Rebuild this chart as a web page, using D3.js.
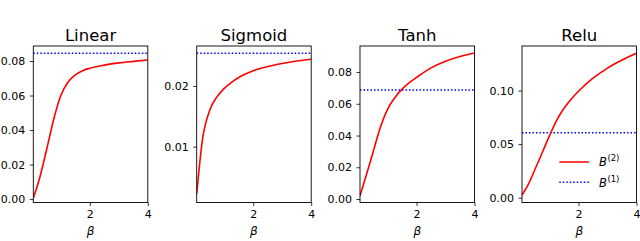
<!DOCTYPE html>
<html><head><meta charset="utf-8">
<script src="https://cdn.jsdelivr.net/npm/d3@7"></script>
<style>body{margin:0;background:#fff}svg{display:block;font-family:"DejaVu Sans",sans-serif}</style>
</head><body><svg id="c" width="640" height="241"></svg>
<script>
const titles = ["Linear", "Sigmoid", "Tanh", "Relu"];
const beta = [0.05, 0.25, 0.5, 0.75, 1.0, 1.25, 1.5, 1.75, 2.0, 2.5, 3.0, 3.5, 4.0];
const linearB2  = [0.0005, 0.0110, 0.0280, 0.0460, 0.0600, 0.0678, 0.0720, 0.0744, 0.0758, 0.0776, 0.0789, 0.0798, 0.0806];
const sigmoidB2 = [0.0022, 0.0112, 0.0160, 0.0182, 0.0196, 0.0206, 0.0214, 0.0220, 0.0225, 0.0232, 0.0237, 0.0241, 0.0244];
const tanhB2    = [0.0020, 0.0140, 0.0295, 0.0450, 0.0565, 0.0638, 0.0692, 0.0733, 0.0766, 0.0826, 0.0868, 0.0898, 0.0920];
const reluB2    = [0.0025, 0.0115, 0.0265, 0.0422, 0.0580, 0.0725, 0.0835, 0.0922, 0.0994, 0.1115, 0.1210, 0.1285, 0.1348];
const B1 = [0.0845, 0.02537, 0.0686, 0.0606];
const yDomains = [[-0.0020, 0.0887], [0.0008, 0.02658], [-0.0022, 0.0964], [-0.0045, 0.1416]];
const yTicks = [[0, 0.02, 0.04, 0.06, 0.08], [0.01, 0.02], [0, 0.02, 0.04, 0.06, 0.08], [0, 0.05, 0.10]];
const xTicks = [2, 4];
const xDomain = [0.05, 4];
const series = [linearB2, sigmoidB2, tanhB2, reluB2];
const lefts = [33.3, 196.7, 360, 522];
const W = 114.5, plotTop = 46, plotBottom = 202.5;

const svg = d3.select("#c");
titles.forEach((t, i) => {
  const g = svg.append("g");
  const x = d3.scaleLinear().domain(xDomain).range([lefts[i], lefts[i] + W]);
  const y = d3.scaleLinear().domain(yDomains[i]).range([plotBottom, plotTop]);
  const clipId = "clip" + i;
  svg.append("clipPath").attr("id", clipId).append("rect")
    .attr("x", lefts[i]).attr("y", plotTop).attr("width", W).attr("height", plotBottom - plotTop);
  const pg = g.append("g").attr("clip-path", `url(#${clipId})`);
  pg.append("line").attr("x1", x(xDomain[0])).attr("x2", x(xDomain[1]))
    .attr("y1", y(B1[i])).attr("y2", y(B1[i]))
    .attr("stroke", "#0000ff").attr("stroke-width", 1.5).attr("stroke-dasharray", "1.5,2");
  const line = d3.line().x((d, j) => x(beta[j])).y(d => y(d)).curve(d3.curveMonotoneX);
  pg.append("path").attr("d", line(series[i])).attr("fill", "none")
    .attr("stroke", "#ff0000").attr("stroke-width", 1.6);
  const ya = g.append("g").attr("transform", `translate(${lefts[i]},0)`)
    .call(d3.axisLeft(y).tickValues(yTicks[i]).tickFormat(d3.format(".2f")).tickSize(3.5).tickPadding(4.5));
  const xa = g.append("g").attr("transform", `translate(0,${plotBottom})`)
    .call(d3.axisBottom(x).tickValues(xTicks).tickFormat(d3.format("d")).tickSize(3.5).tickPadding(3.7));
  [ya, xa].forEach(a => {
    a.select(".domain").remove();
    a.selectAll("text").attr("font-size", 11).attr("font-family", "DejaVu Sans").attr("fill", "#000");
    a.selectAll("line").attr("stroke", "#000").attr("stroke-width", 0.8);
  });
  g.append("rect").attr("x", lefts[i]).attr("y", plotTop).attr("width", W).attr("height", plotBottom - plotTop)
    .attr("fill", "none").attr("stroke", "#000").attr("stroke-width", 0.9);
  g.append("text").attr("x", lefts[i] + W / 2).attr("y", 40.5).attr("text-anchor", "middle")
    .attr("font-size", 16.5).text(t);
  g.append("text").attr("x", lefts[i] + W / 2).attr("y", 235).attr("text-anchor", "middle")
    .attr("font-size", 12).attr("font-style", "italic").text("β");
});
const lg = svg.append("g");
const legendItems = [["2", "#ff0000", null, 162], ["1", "#0000ff", "1.5,2", 182.3]];
legendItems.forEach(([s, c, dash, yy]) => {
  lg.append("line").attr("x1", 559.3).attr("x2", 589).attr("y1", yy).attr("y2", yy)
    .attr("stroke", c).attr("stroke-width", 1.5).attr("stroke-dasharray", dash);
  const tx = lg.append("text").attr("x", 599).attr("y", yy + 4.3).attr("font-size", 11.5);
  tx.append("tspan").attr("font-style", "italic").text("B");
  tx.append("tspan").attr("font-size", 8.5).attr("dy", -5).attr("dx", 0.5).text("(" + s + ")");
});
</script></body></html>
